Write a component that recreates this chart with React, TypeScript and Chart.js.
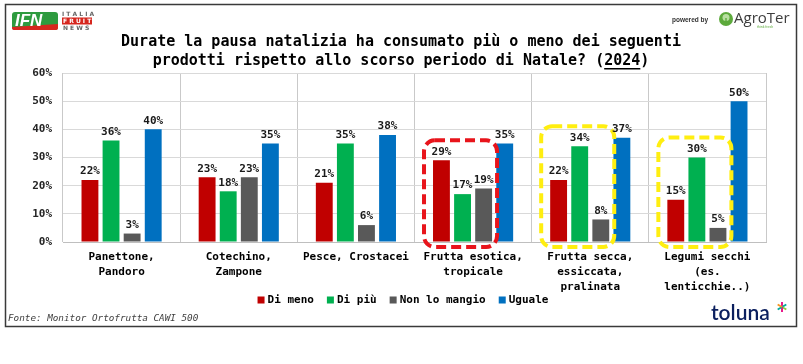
import React, { useEffect, useRef } from "react";
import { Chart, registerables } from "chart.js";

Chart.register(...registerables);

const categories: string[][] = [
  ["Panettone,", "Pandoro"],
  ["Cotechino,", "Zampone"],
  ["Pesce, Crostacei"],
  ["Frutta esotica,", "tropicale"],
  ["Frutta secca,", "essiccata,", "pralinata"],
  ["Legumi secchi", "(es.", "lenticchie..)"],
];
const seriesNames = ["Di meno", "Di più", "Non lo mangio", "Uguale"];
const diMeno = [22, 23, 21, 29, 22, 15];
const diPiu = [36, 18, 35, 17, 34, 30];
const nonLoMangio = [3, 23, 6, 19, 8, 5];
const uguale = [40, 35, 38, 35, 37, 50];
const seriesColors = ["#C00000", "#00B050", "#595959", "#0070C0"];
const yMax = 60;
const yStep = 10;
const highlightCategories = [3, 4, 5];
const highlightColors = ["#E8141B", "#FFEE10", "#FFEE10"];
const titleLine1 = "Durate la pausa natalizia ha consumato più o meno dei seguenti";
const titleLine2Pre = "prodotti rispetto allo scorso periodo di Natale? (";
const titleYear = "2024";
const titleLine2Post = ")";
const footerText = "Fonte: Monitor Ortofrutta CAWI 500";

const MONO = "'DejaVu Sans Mono', monospace";

function roundRectPath(ctx: CanvasRenderingContext2D, x: number, y: number, w: number, h: number, r: number) {
  ctx.beginPath();
  ctx.moveTo(x + r, y);
  ctx.lineTo(x + w - r, y);
  ctx.arcTo(x + w, y, x + w, y + r, r);
  ctx.lineTo(x + w, y + h - r);
  ctx.arcTo(x + w, y + h, x + w - r, y + h, r);
  ctx.lineTo(x + r, y + h);
  ctx.arcTo(x, y + h, x, y + h - r, r);
  ctx.lineTo(x, y + r);
  ctx.arcTo(x, y, x + r, y, r);
  ctx.closePath();
}

const decorPlugin = {
  id: "decor",
  beforeDraw(chart: any) {
    const ctx = chart.ctx;
    ctx.save();
    ctx.fillStyle = "#ffffff";
    ctx.fillRect(0, 0, chart.width, chart.height);
    ctx.restore();
  },
  afterDatasetsDraw(chart: any) {
    const ctx: CanvasRenderingContext2D = chart.ctx;
    const yScale = chart.scales.y;
    // highlight boxes
    highlightCategories.forEach((ci, k) => {
      const b0 = chart.getDatasetMeta(0).data[ci];
      const b2 = chart.getDatasetMeta(2).data[ci];
      const maxV = Math.max(diMeno[ci], diPiu[ci], nonLoMangio[ci]);
      const left = b0.x - b0.width / 2 - 9;
      const right = b2.x + b2.width / 2 + 5;
      const top = yScale.getPixelForValue(maxV) - 20;
      const bottom = yScale.getPixelForValue(0) + 5;
      ctx.save();
      ctx.strokeStyle = highlightColors[k];
      ctx.lineWidth = 4;
      ctx.setLineDash([10, 5]);
      roundRectPath(ctx, left, top, right - left, bottom - top, 11);
      ctx.stroke();
      ctx.restore();
    });
    // value labels
    ctx.save();
    ctx.font = `bold 11px ${MONO}`;
    ctx.fillStyle = "#1a1a1a";
    ctx.textAlign = "center";
    ctx.textBaseline = "bottom";
    chart.data.datasets.forEach((ds: any, di: number) => {
      const meta = chart.getDatasetMeta(di);
      meta.data.forEach((bar: any, i: number) => {
        ctx.fillText(ds.data[i] + "%", bar.x, bar.y - 3);
      });
    });
    ctx.restore();
  },
  afterDraw(chart: any) {
    const ctx: CanvasRenderingContext2D = chart.ctx;
    const cx = 401;
    ctx.save();
    // border
    ctx.strokeStyle = "#3a3a3a";
    ctx.lineWidth = 1.5;
    ctx.strokeRect(5.5, 4.5, 791, 322);

    // title
    ctx.fillStyle = "#000";
    ctx.font = `bold 15px ${MONO}`;
    ctx.textAlign = "center";
    ctx.textBaseline = "middle";
    ctx.fillText(titleLine1, cx, 42);
    const full2 = titleLine2Pre + titleYear + titleLine2Post;
    ctx.fillText(full2, cx, 61);
    const w2 = ctx.measureText(full2).width;
    const wPre = ctx.measureText(titleLine2Pre).width;
    const wYear = ctx.measureText(titleYear).width;
    const ux = cx - w2 / 2 + wPre;
    ctx.fillRect(ux, 68, wYear, 1.5);

    // legend
    ctx.textAlign = "left";
    ctx.textBaseline = "middle";
    ctx.font = `bold 11px ${MONO}`;
    const boxW = 7, textGap = 3, itemGap = 13;
    const widths = seriesNames.map((n) => boxW + textGap + ctx.measureText(n).width);
    const totalW = widths.reduce((a, b) => a + b, 0) + itemGap * (seriesNames.length - 1);
    let lx = 403 - totalW / 2;
    const ly = 300;
    seriesNames.forEach((n, i) => {
      ctx.fillStyle = seriesColors[i];
      ctx.fillRect(lx, ly - 3.5, boxW, boxW);
      ctx.fillStyle = "#000";
      ctx.fillText(n, lx + boxW + textGap, ly);
      lx += widths[i] + itemGap;
    });

    // IFN logo
    roundRectPath(ctx, 12, 12, 46, 18, 3);
    ctx.fillStyle = "#2E9B3F";
    ctx.fill();
    ctx.fillStyle = "#D6261E";
    ctx.beginPath();
    ctx.moveTo(12, 27);
    ctx.lineTo(58, 24);
    ctx.lineTo(58, 28);
    ctx.arcTo(58, 30, 55, 30, 2);
    ctx.lineTo(15, 30);
    ctx.arcTo(12, 30, 12, 27, 2);
    ctx.closePath();
    ctx.fill();
    ctx.fillStyle = "#ffffff";
    ctx.font = "italic bold 17px 'Liberation Sans', sans-serif";
    ctx.fillText("IFN", 15, 21);
    ctx.font = "bold 6px 'DejaVu Sans', sans-serif";
    ctx.fillStyle = "#666";
    ctx.fillText("I T A L I A", 62, 14);
    ctx.fillStyle = "#D6261E";
    ctx.fillRect(62, 17.5, 30, 7);
    ctx.fillStyle = "#fff";
    ctx.fillText("F R U I T", 63, 21.2);
    ctx.fillStyle = "#666";
    ctx.fillText("N E W S", 63, 28);

    // powered by AgroTer
    ctx.fillStyle = "#333";
    ctx.font = "bold 6.5px 'Liberation Sans', sans-serif";
    ctx.fillText("powered by", 672, 20);
    ctx.beginPath();
    ctx.arc(726, 19, 7, 0, Math.PI * 2);
    ctx.fillStyle = "#5DAA3C";
    ctx.fill();
    ctx.beginPath();
    ctx.arc(726, 17.5, 3.5, 0, Math.PI * 2);
    ctx.fillStyle = "#B8DFA0";
    ctx.fill();
    ctx.fillStyle = "#5DAA3C";
    ctx.fillRect(725.3, 18, 1.4, 5);
    ctx.fillStyle = "#3d3d3d";
    ctx.font = "15px 'Open Sans', sans-serif";
    ctx.fillText("AgroTer", 734, 19);
    ctx.fillStyle = "#5DAA3C";
    ctx.font = "3.5px 'Liberation Sans', sans-serif";
    ctx.fillText("think fresh", 757, 27);

    // footer
    ctx.fillStyle = "#404040";
    ctx.font = `italic 9.3px ${MONO}`;
    ctx.fillText(footerText, 8, 319);

    // toluna
    ctx.fillStyle = "#0B1F5E";
    ctx.font = "600 21px 'Lato', sans-serif";
    ctx.textBaseline = "alphabetic";
    ctx.fillText("toluna", 711, 320);
    const ax = 782, ay = 307;
    const spokeColors = ["#E6007E", "#00A99D", "#8DC63F", "#E6007E", "#00A99D", "#F7941D"];
    ctx.lineWidth = 1.8;
    ctx.setLineDash([]);
    spokeColors.forEach((c, i) => {
      const a = (i * Math.PI) / 3 - Math.PI / 2;
      ctx.strokeStyle = c;
      ctx.beginPath();
      ctx.moveTo(ax, ay);
      ctx.lineTo(ax + Math.cos(a) * 5, ay + Math.sin(a) * 5);
      ctx.stroke();
    });
    ctx.restore();
  },
};

export default function App() {
  const ref = useRef<HTMLCanvasElement | null>(null);
  useEffect(() => {
    document.body.style.margin = "0";
    if (!ref.current) return;
    const series = [diMeno, diPiu, nonLoMangio, uguale];
    const chart = new Chart(ref.current, {
      type: "bar",
      data: {
        labels: categories,
        datasets: series.map((d, i) => ({
          label: seriesNames[i],
          data: d,
          backgroundColor: seriesColors[i],
          categoryPercentage: 0.72,
          barPercentage: 0.8,
        })),
      },
      options: {
        animation: false,
        responsive: false,
        devicePixelRatio: 1,
        layout: { padding: { top: 73, right: 37, left: 0, bottom: 62 } },
        plugins: {
          legend: { display: false },
          tooltip: { enabled: false },
        },
        scales: {
          x: {
            grid: { color: "#c9c9c9", offset: true, drawTicks: false, lineWidth: 1 },
            border: { color: "#bfbfbf" },
            ticks: {
              font: { family: "'DejaVu Sans Mono', monospace", size: 11, weight: "bold", lineHeight: 1.35 },
              color: "#000",
              padding: 8,
              maxRotation: 0,
              autoSkip: false,
            },
            afterFit: (s: any) => { s.height = 60; },
          },
          y: {
            min: 0,
            max: yMax,
            ticks: {
              stepSize: yStep,
              font: { family: "'DejaVu Sans Mono', monospace", size: 11, weight: "bold" },
              color: "#262626",
              padding: 11,
              callback: (v: any) => v + "%",
            },
            grid: { color: "#d9d9d9", drawTicks: false },
            border: { display: false },
            afterFit: (s: any) => { s.width = 63; },
          },
        },
      },
      plugins: [decorPlugin],
    });
    return () => chart.destroy();
  }, []);
  return <canvas ref={ref} width={803} height={364} style={{ display: "block" }} />;
}
